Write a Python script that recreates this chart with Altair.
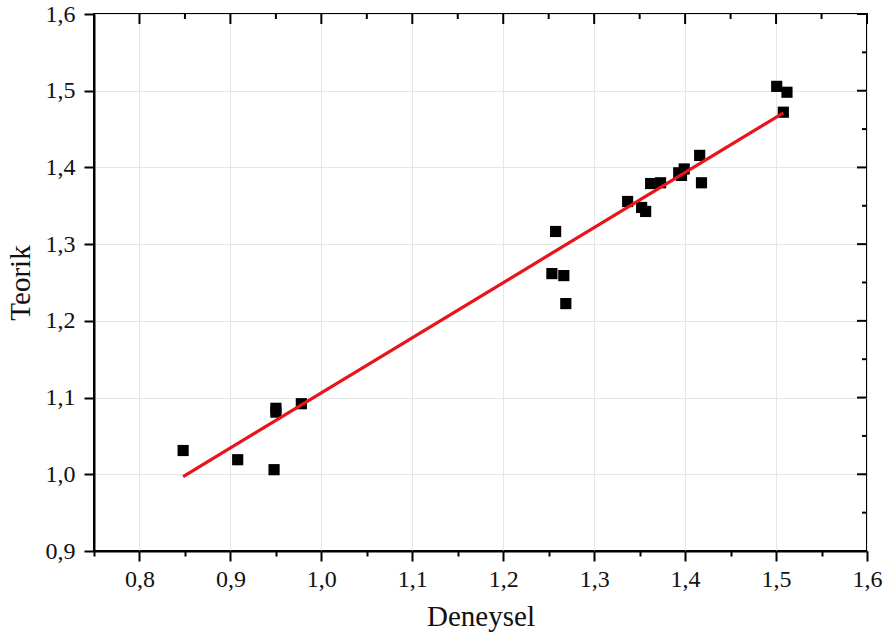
import altair as alt
import pandas as pd

# Scatter data
deneysel = [0.848, 0.908, 0.948, 0.950, 0.950, 0.978,
            1.2576, 1.2535, 1.2666, 1.2688,
            1.3368, 1.3522, 1.3566, 1.3621, 1.373, 1.393, 1.396, 1.399, 1.416, 1.418,
            1.5007, 1.512, 1.508]
teorik = [1.031, 1.019, 1.006, 1.086, 1.081, 1.092,
          1.3165, 1.2616, 1.259, 1.2225,
          1.3556, 1.3478, 1.3426, 1.379, 1.380, 1.393, 1.3896, 1.398, 1.4157, 1.380,
          1.5057, 1.498, 1.472]

# Fit line endpoints
fit_x = [0.848, 1.508]
fit_y = [0.997, 1.471]

x_ticks = [0.75, 0.8, 0.85, 0.9, 0.95, 1.0, 1.05, 1.1, 1.15, 1.2, 1.25, 1.3,
           1.35, 1.4, 1.45, 1.5, 1.55, 1.6]
y_ticks = [0.9, 0.95, 1.0, 1.05, 1.1, 1.15, 1.2, 1.25, 1.3, 1.35, 1.4, 1.45,
           1.5, 1.55, 1.6]

W, H = 773, 537
MAJ, MIN = 10, 5

pts = pd.DataFrame({"Deneysel": deneysel, "Teorik": teorik})
fit = pd.DataFrame({"Deneysel": fit_x, "Teorik": fit_y})
xt = pd.DataFrame({"v": x_ticks})
yt = pd.DataFrame({"v": y_ticks})

major = "round(datum.value*20) % 2 == 0"
label_expr = f"({major}) ? replace(format(datum.value, '.1f'), '.', ',') : ''"


def make_axis(values, title, title_pad, label_pad):
    return alt.Axis(
        values=values,
        title=title,
        labelExpr=label_expr,
        labelFont="Liberation Serif",
        labelFontSize=24,
        labelColor="#111111",
        titleFont="Liberation Serif",
        titleFontSize=29,
        titleFontWeight="normal",
        titleColor="#111111",
        titlePadding=title_pad,
        domainColor="black",
        domainWidth=2,
        tickColor="black",
        tickWidth=2,
        tickSize={"condition": {"test": major, "value": MAJ}, "value": MIN},
        gridColor="#e6e6e6",
        gridWidth=1,
        gridOpacity={"condition": {"test": major, "value": 1}, "value": 0},
        labelPadding=label_pad,
        labelFlush=False,
        labelOverlap=False,
    )


xs = alt.Scale(domain=[0.75, 1.6], nice=False, zero=False)
ys = alt.Scale(domain=[0.9, 1.6], nice=False, zero=False)

points = alt.Chart(pts).mark_square(size=125, color="black", opacity=1, filled=True).encode(
    x=alt.X("Deneysel:Q", scale=xs, axis=make_axis(x_ticks, "Deneysel", 11, 6)),
    y=alt.Y("Teorik:Q", scale=ys, axis=make_axis(y_ticks, "Teorik", 10, 9)),
)

line = alt.Chart(fit).mark_line(color="#e8141b", strokeWidth=3.2).encode(
    x=alt.X("Deneysel:Q", scale=xs),
    y=alt.Y("Teorik:Q", scale=ys),
)

is_major = "round(datum.v*20) % 2 == 0"
is_minor = "round(datum.v*20) % 2 != 0"

top_major = alt.Chart(xt).transform_filter(is_major).mark_rule(color="black", strokeWidth=2).encode(
    x=alt.X("v:Q", scale=xs), y=alt.value(0), y2=alt.value(MAJ))
top_minor = alt.Chart(xt).transform_filter(is_minor).mark_rule(color="black", strokeWidth=2).encode(
    x=alt.X("v:Q", scale=xs), y=alt.value(0), y2=alt.value(MIN))
right_major = alt.Chart(yt).transform_filter(is_major).mark_rule(color="black", strokeWidth=2).encode(
    y=alt.Y("v:Q", scale=ys), x=alt.value(W), x2=alt.value(W - MAJ))
right_minor = alt.Chart(yt).transform_filter(is_minor).mark_rule(color="black", strokeWidth=2).encode(
    y=alt.Y("v:Q", scale=ys), x=alt.value(W), x2=alt.value(W - MIN))

chart = (
    alt.layer(points, line, top_major, top_minor, right_major, right_minor)
    .properties(
        width=W,
        height=H,
        autosize=alt.AutoSizeParams(type="none"),
        padding={"left": 94, "top": 14, "right": 23, "bottom": 87},
        background="white",
    )
    .configure_view(stroke="black", strokeWidth=2)
)

chart.save("out.html", embed_options={"renderer": "svg", "actions": False})
